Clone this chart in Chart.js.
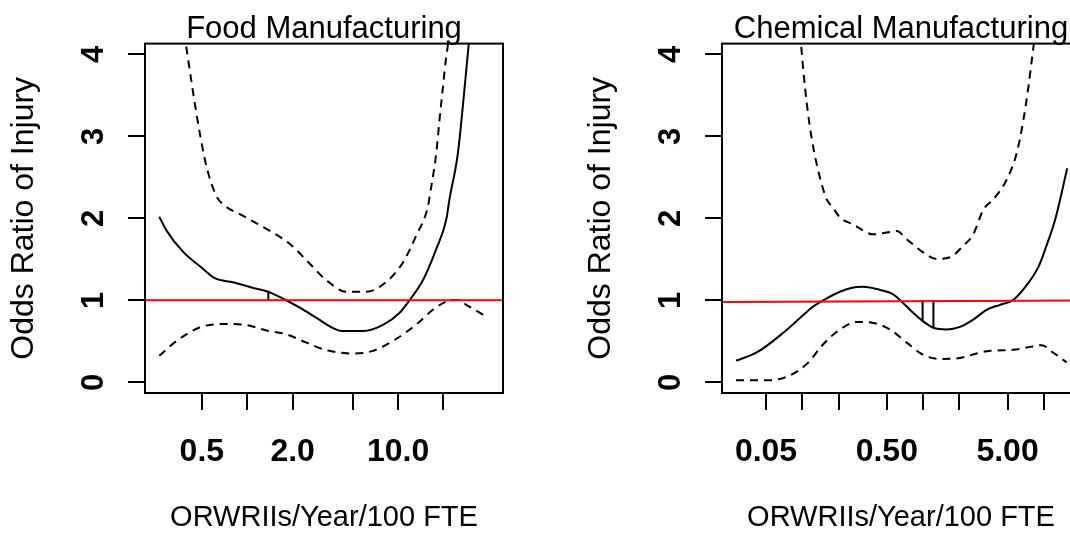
<!DOCTYPE html>
<html><head><meta charset="utf-8">
<script src="https://cdn.jsdelivr.net/npm/chart.js@4/dist/chart.umd.min.js"></script>
<style>
html,body{margin:0;padding:0;width:1070px;height:539px;overflow:hidden;background:#fff;}
#wrap{position:relative;width:1070px;height:539px;overflow:hidden;}
canvas{position:absolute;top:0;}
#c1{left:0;} #c2{left:577px;}
</style></head><body>
<div id="wrap"><canvas id="c1" width="577" height="539"></canvas><canvas id="c2" width="577" height="539"></canvas></div>
<script>
// ---- tick values & labels ----
const yTicks = [0, 1, 2, 3, 4];
const foodTicks = [0.5, 1, 2, 5, 10, 20];
const foodTickLabels = ['0.5', '', '2.0', '', '10.0', ''];
const chemTicks = [0.05, 0.1, 0.2, 0.5, 1, 2, 5, 10];
const chemTickLabels = ['0.05', '', '', '0.50', '', '', '5.00', ''];

// ---- Food Manufacturing ----
const foodFitX = [0.261,0.292,0.376,0.49,0.61,0.805,1.094,1.375,1.77,2.23,2.88,3.71,4.21,5.85,7.94,10.2,11.9,14.6,17.9,20.9,21.9,24.9,27.6,29.4,31.2];
const foodFitY = [2.02,1.85,1.59,1.41,1.27,1.22,1.15,1.105,1.01,0.91,0.785,0.66,0.625,0.625,0.70,0.845,1.0,1.245,1.625,1.99,2.23,2.79,3.59,4.13,4.6];
const foodUpperX = [0.357,0.392,0.417,0.45,0.49,0.537,0.625,0.692,0.94,1.34,1.91,2.60,3.35,4.54,6.16,8.36,10.8,13.2,15.8,16.2,17.9,18.8,19.8,20.9,21.4,22.3];
const foodUpperY = [4.6,4.12,3.79,3.39,2.99,2.63,2.27,2.17,2.03,1.87,1.69,1.445,1.245,1.105,1.105,1.225,1.465,1.79,2.15,2.27,2.79,3.19,3.59,3.99,4.12,4.6];
const foodLowerX = [0.261,0.34,0.49,0.73,0.99,1.34,1.82,2.47,3.35,5.03,6.82,9.25,13.2,17.0,21.9,24.9,28.3,39.4];
const foodLowerY = [0.324,0.505,0.673,0.712,0.697,0.633,0.585,0.484,0.393,0.352,0.384,0.505,0.705,0.885,0.997,1.005,0.945,0.79];
const foodSpikeX = [1.38, 1.38];
const foodSpikeY = [1.10, 1.0];
const foodRefX = [0.21, 49.6];
const foodRefY = [1, 1];

// ---- Chemical Manufacturing ----
const chemFitX = [0.0282,0.0419,0.0695,0.0955,0.123,0.159,0.205,0.264,0.319,0.412,0.566,0.685,0.829,0.99,1.216,1.567,2.02,2.60,3.36,4.33,5.58,7.20,8.99,10.5,12.4,15.6];
const chemFitY = [0.264,0.364,0.604,0.784,0.925,1.025,1.105,1.157,1.165,1.137,1.073,0.965,0.845,0.75,0.665,0.645,0.676,0.765,0.885,0.945,1.005,1.185,1.405,1.665,1.985,2.61];
const chemUpperX = [0.091,0.0975,0.102,0.109,0.119,0.131,0.159,0.175,0.205,0.264,0.387,0.499,0.604,0.731,1.0,1.29,1.67,2.15,2.60,3.15,3.81,4.91,5.94,6.75,7.42,8.16,9.0];
const chemUpperY = [4.6,4.12,3.79,3.39,2.99,2.67,2.23,2.15,2.01,1.925,1.805,1.826,1.846,1.745,1.585,1.505,1.525,1.665,1.805,2.105,2.23,2.47,2.79,3.19,3.59,4.07,4.6];
const chemLowerX = [0.0282,0.0507,0.0766,0.109,0.149,0.205,0.282,0.387,0.531,0.731,1.0,1.38,2.02,2.77,3.58,5.58,7.20,9.57,11.9,15.4];
const chemLowerY = [0.024,0.024,0.076,0.225,0.465,0.645,0.736,0.724,0.645,0.484,0.336,0.285,0.297,0.352,0.384,0.396,0.424,0.453,0.364,0.244];
const chemSpike1X = [0.99, 0.99];
const chemSpike1Y = [1.0, 0.74];
const chemSpike2X = [1.216, 1.216];
const chemSpike2Y = [1.0, 0.665];
const chemRefX = [0.0216, 19.9];
const chemRefY = [0.98, 0.997];

const FONT = "'Liberation Sans', Arial, Helvetica, sans-serif";
const pts = (xs, ys) => xs.map((x, i) => ({x: x, y: ys[i]}));

const boxPlugin = {
  id: 'box',
  afterDraw(chart) {
    const {ctx, chartArea: a} = chart;
    ctx.save();
    ctx.strokeStyle = '#000';
    ctx.lineWidth = 2;
    ctx.strokeRect(a.left, a.top, a.right - a.left, a.bottom - a.top);
    ctx.restore();
  }
};

function lineDs(data, opts) {
  return Object.assign({
    data: data, borderColor: '#000', borderWidth: 2, pointRadius: 0,
    fill: false, cubicInterpolationMode: 'monotone', order: 2
  }, opts || {});
}

function makeChart(id, title, ticks, labels, xmin, xmax, datasets) {
  return new Chart(document.getElementById(id), {
    type: 'line',
    data: {datasets: datasets},
    plugins: [boxPlugin],
    options: {
      responsive: false, animation: false, devicePixelRatio: 1,
      layout: {padding: {left: 0, right: 74, top: 0, bottom: 0}},
      plugins: {
        legend: {display: false},
        tooltip: {enabled: false},
        title: {
          display: true, text: title, fullSize: false, color: '#000',
          font: {family: FONT, size: 31, weight: 'normal', lineHeight: 0.9},
          padding: {top: 11, bottom: 0}
        }
      },
      scales: {
        x: {
          type: 'logarithmic', min: xmin, max: xmax,
          afterBuildTicks: s => { s.ticks = ticks.map(v => ({value: v})); },
          afterFit: s => { s.height = 146; },
          ticks: {
            callback: (v, i) => labels[i], autoSkip: false, maxRotation: 0, minRotation: 0,
            color: '#000', padding: 23,
            font: {family: FONT, size: 32, weight: 'bold'}
          },
          grid: {drawOnChartArea: false, drawTicks: true, tickLength: 17, lineWidth: 2, color: '#000'},
          border: {display: true, color: '#000', width: 2},
          title: {
            display: true, text: 'ORWRIIs/Year/100 FTE', color: '#000',
            font: {family: FONT, size: 29, weight: 'normal'},
            padding: {top: 0, bottom: 4}
          }
        },
        y: {
          type: 'linear', min: -0.13, max: 4.13,
          afterBuildTicks: s => { s.ticks = yTicks.map(v => ({value: v})); },
          afterFit: s => { s.width = 145; },
          ticks: {
            minRotation: 90, maxRotation: 90, crossAlign: 'center',
            color: '#000', padding: 25,
            font: {family: FONT, size: 31, weight: 'bold'}
          },
          grid: {drawOnChartArea: false, drawTicks: true, tickLength: 17, lineWidth: 2, color: '#000'},
          border: {display: true, color: '#000', width: 2},
          title: {
            display: true, text: 'Odds Ratio of Injury', color: '#000',
            font: {family: FONT, size: 32, weight: 'normal'},
            padding: {top: 5, bottom: 0}
          }
        }
      }
    }
  });
}

const dash = [8, 6];

makeChart('c1', 'Food Manufacturing', foodTicks, foodTickLabels, 0.21, 49.6, [
  lineDs(pts(foodRefX, foodRefY), {borderColor: '#ff0000', order: 0}),
  lineDs(pts(foodFitX, foodFitY)),
  lineDs(pts(foodUpperX, foodUpperY), {borderDash: dash}),
  lineDs(pts(foodLowerX, foodLowerY), {borderDash: dash}),
  lineDs(pts(foodSpikeX, foodSpikeY))
]);

makeChart('c2', 'Chemical Manufacturing', chemTicks, chemTickLabels, 0.0216, 19.9, [
  lineDs(pts(chemRefX, chemRefY), {borderColor: '#ff0000', order: 0}),
  lineDs(pts(chemFitX, chemFitY)),
  lineDs(pts(chemUpperX, chemUpperY), {borderDash: dash}),
  lineDs(pts(chemLowerX, chemLowerY), {borderDash: dash}),
  lineDs(pts(chemSpike1X, chemSpike1Y)),
  lineDs(pts(chemSpike2X, chemSpike2Y))
]);
</script>
</body></html>
